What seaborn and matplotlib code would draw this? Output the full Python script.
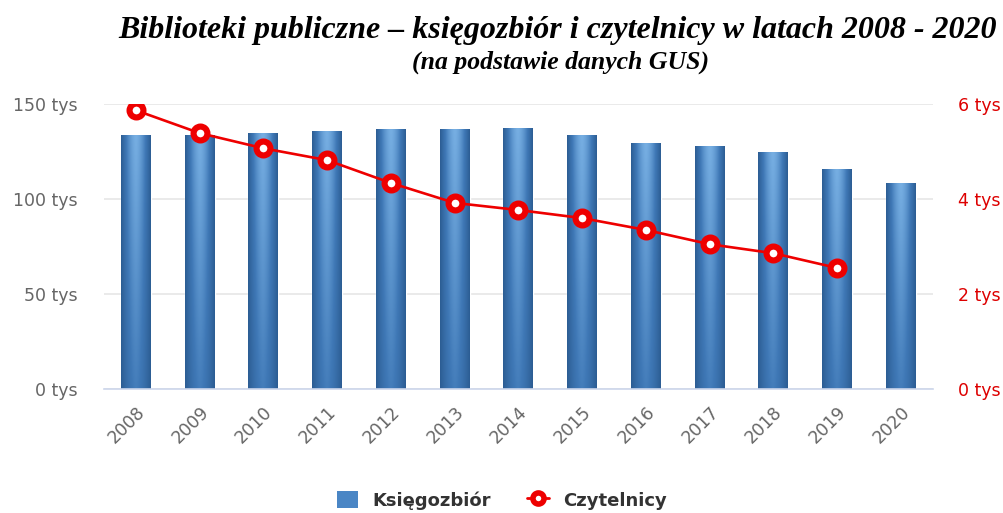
import numpy as np
import pandas as pd
import seaborn as sns
import matplotlib.pyplot as plt
from matplotlib.ticker import FuncFormatter
from matplotlib.patches import Patch
from matplotlib.lines import Line2D
from matplotlib.colors import LinearSegmentedColormap

# dane (tys.)
years = ["2008", "2009", "2010", "2011", "2012", "2013", "2014",
         "2015", "2016", "2017", "2018", "2019", "2020"]
ksiegozbior = [133.7, 133.8, 134.7, 135.8, 136.8, 136.8, 137.4,
               133.7, 129.5, 127.9, 124.7, 115.8, 108.4]
czytelnicy = [5.87, 5.39, 5.07, 4.82, 4.34, 3.92, 3.77,
              3.60, 3.35, 3.05, 2.86, 2.55, np.nan]

df = pd.DataFrame({"rok": years, "Księgozbiór": ksiegozbior, "Czytelnicy": czytelnicy})

sns.set_theme(style="white")
plt.rcParams['font.family'] = ['DejaVu Sans']

fig = plt.figure(figsize=(10.04, 5.13), dpi=100)
ax = fig.add_axes([0.1036, 0.2417, 0.8254, 0.5553])

sns.barplot(data=df, x="rok", y="Księgozbiór", color="#4a86c5", width=0.47,
            saturation=1, ax=ax, zorder=2)

# gradient na słupkach
cmap = LinearSegmentedColormap.from_list("bar", ["#2c5d93", "#3f78b6", "#76aee2"])
gx = np.linspace(-1, 1, 64)
gy = np.linspace(0, 1, 64)
GX, GY = np.meshgrid(gx, gy)
grad = (1 - np.abs(GX) ** 1.6) * (0.55 + 0.45 * GY)
for p in ax.patches:
    x0, y0 = p.get_x(), p.get_y()
    w, h = p.get_width(), p.get_height()
    im = ax.imshow(grad, cmap=cmap, vmin=0, vmax=1, aspect="auto", origin="lower",
                   extent=[x0, x0 + w, y0, y0 + h], zorder=2.5)
    im.set_clip_path(p)

ax.set_xlim(-0.5, len(years) - 0.5)
ax.set_ylim(0, 150)
ax.set_yticks([0, 50, 100, 150])
ax.yaxis.set_major_formatter(FuncFormatter(lambda v, _: f"{v:.0f} tys"))
ax.grid(axis="y", color="#e6e6e6", linewidth=1.2, zorder=0)
ax.set_axisbelow(True)
ax.set_xlabel("")
ax.set_ylabel("")
for s in ["top", "left", "right"]:
    ax.spines[s].set_visible(False)
ax.spines["bottom"].set_color("#ccd6eb")
ax.spines["bottom"].set_linewidth(1.2)
ax.tick_params(axis="y", length=0, labelsize=12.5, labelcolor="#666666", pad=19)
ax.tick_params(axis="x", which="major", length=0, labelsize=12.5, labelcolor="#666666", pad=10)
ax.set_xticks(np.arange(-0.5, len(years)), minor=True)
ax.tick_params(axis="x", which="minor", length=10, width=1.2, color="#ccd6eb")
plt.setp(ax.get_xticklabels(), rotation=45, ha="right", rotation_mode="anchor")

# czytelnicy - prawa oś
ax2 = ax.twinx()
sns.lineplot(data=df, x="rok", y="Czytelnicy", color="#ee0000", linewidth=1.9,
             marker="o", markersize=10, markerfacecolor="white",
             markeredgecolor="#ee0000", markeredgewidth=4.4, ax=ax2, zorder=5)
ax2.set_ylim(0, 6)
ax2.set_yticks([0, 2, 4, 6])
ax2.yaxis.set_major_formatter(FuncFormatter(lambda v, _: f"{v:.0f} tys"))
ax2.tick_params(axis="y", length=0, labelsize=12.5, labelcolor="#dd0000", pad=18)
ax2.set_ylabel("")
ax2.grid(False)
for s in ["top", "left", "right", "bottom"]:
    ax2.spines[s].set_visible(False)

# tytuł
fig.text(0.993, 0.94, "Biblioteki publiczne – księgozbiór i czytelnicy w latach 2008 - 2020",
         ha="right", va="center", fontsize=23, fontweight="bold", fontstyle="italic",
         family="Liberation Serif", color="black")
fig.text(0.558, 0.878, "(na podstawie danych GUS)", ha="center", va="center",
         fontsize=18.5, fontweight="bold", fontstyle="italic", family="Liberation Serif",
         color="black")

handles = [Patch(facecolor="#4a86c5", edgecolor="none"),
           Line2D([], [], color="#ee0000", linewidth=2, marker="o", markersize=8,
                  markerfacecolor="white", markeredgecolor="#ee0000", markeredgewidth=4)]
fig.legend(handles, ["Księgozbiór", "Czytelnicy"], loc="center", bbox_to_anchor=(0.5, 0.025),
           ncol=2, frameon=False, handlelength=1.2, handleheight=1.1, columnspacing=2,
           prop={"weight": "bold", "size": 13}, labelcolor="#333333")

fig.savefig("out.png", dpi=100)
